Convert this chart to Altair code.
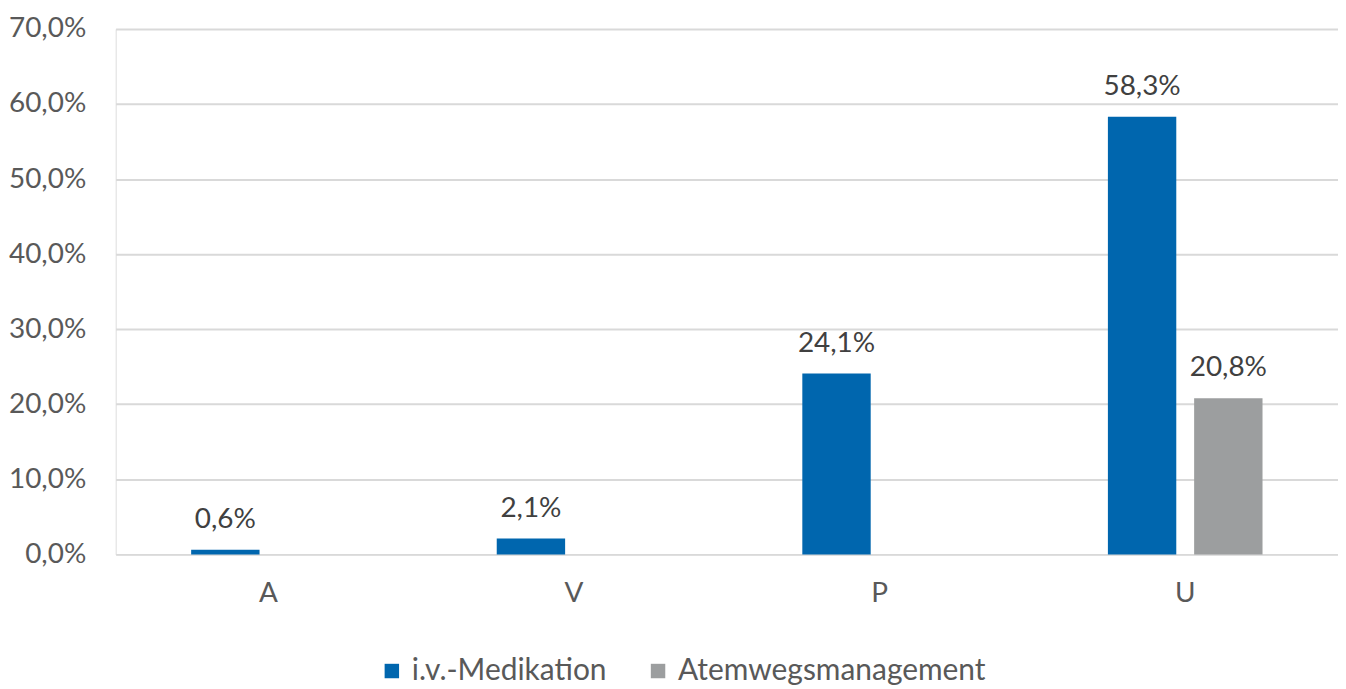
import altair as alt
import pandas as pd

categories = ["A", "V", "P", "U"]
series = ["i.v.-Medikation", "Atemwegsmanagement"]
iv_medikation = [0.006, 0.021, 0.241, 0.583]
atemwegsmanagement = [None, None, None, 0.208]

rows = []
for i, c in enumerate(categories):
    rows.append({"cat": c, "series": series[0], "value": iv_medikation[i]})
    rows.append({"cat": c, "series": series[1], "value": atemwegsmanagement[i]})
df = pd.DataFrame(rows)

FONT = "Lato"
FS = 28
colors = ["#0066AE", "#9C9E9F"]

base = alt.Chart(df).encode(
    x=alt.X("cat:N", sort=categories, title=None,
            scale=alt.Scale(paddingInner=0.494, paddingOuter=0.247),
            axis=alt.Axis(labelAngle=0, ticks=False, domain=False, labelPadding=25,
                          labelFontSize=FS, labelColor="#595959", labelFont=FONT)),
    xOffset=alt.XOffset("series:N", sort=series,
                        scale=alt.Scale(domain=series, paddingInner=0.207, paddingOuter=0)),
)

bars = base.mark_bar().encode(
    y=alt.Y("value:Q", title=None,
            scale=alt.Scale(domain=[0, 0.7], nice=False),
            axis=alt.Axis(values=[0, 0.1, 0.2, 0.3, 0.4, 0.5, 0.6, 0.7],
                          labelExpr="replace(format(datum.value, '.1%'), '.', ',')",
                          ticks=False, domain=False, labelPadding=30,
                          labelFontSize=FS, labelColor="#595959", labelFont=FONT,
                          gridColor="#D9D9D9", gridWidth=2)),
    color=alt.Color("series:N", sort=series,
                    scale=alt.Scale(domain=series, range=colors),
                    legend=alt.Legend(title=None, orient="none", direction="horizontal",
                                      legendX=262, legendY=629, labelLimit=0,
                                      symbolType="square", symbolSize=210,
                                      symbolStrokeWidth=0, columnPadding=36, labelOffset=5,
                                      labelFontSize=30, labelColor="#595959", labelFont=FONT)),
)

labels = base.transform_filter("isValid(datum.value)").transform_calculate(
    lbl="replace(format(datum.value, '.1%'), '.', ',')"
).mark_text(baseline="bottom", dy=-16, fontSize=FS, color="#404040", font=FONT).encode(
    y=alt.Y("value:Q"),
    text="lbl:N",
)

chart = (bars + labels).properties(width=1226, height=527).configure_view(stroke=None).configure(
    padding={"left": 0, "top": 6, "right": 0, "bottom": 0}
)

chart.save("out.html", embed_options={"renderer": "svg", "actions": False})
